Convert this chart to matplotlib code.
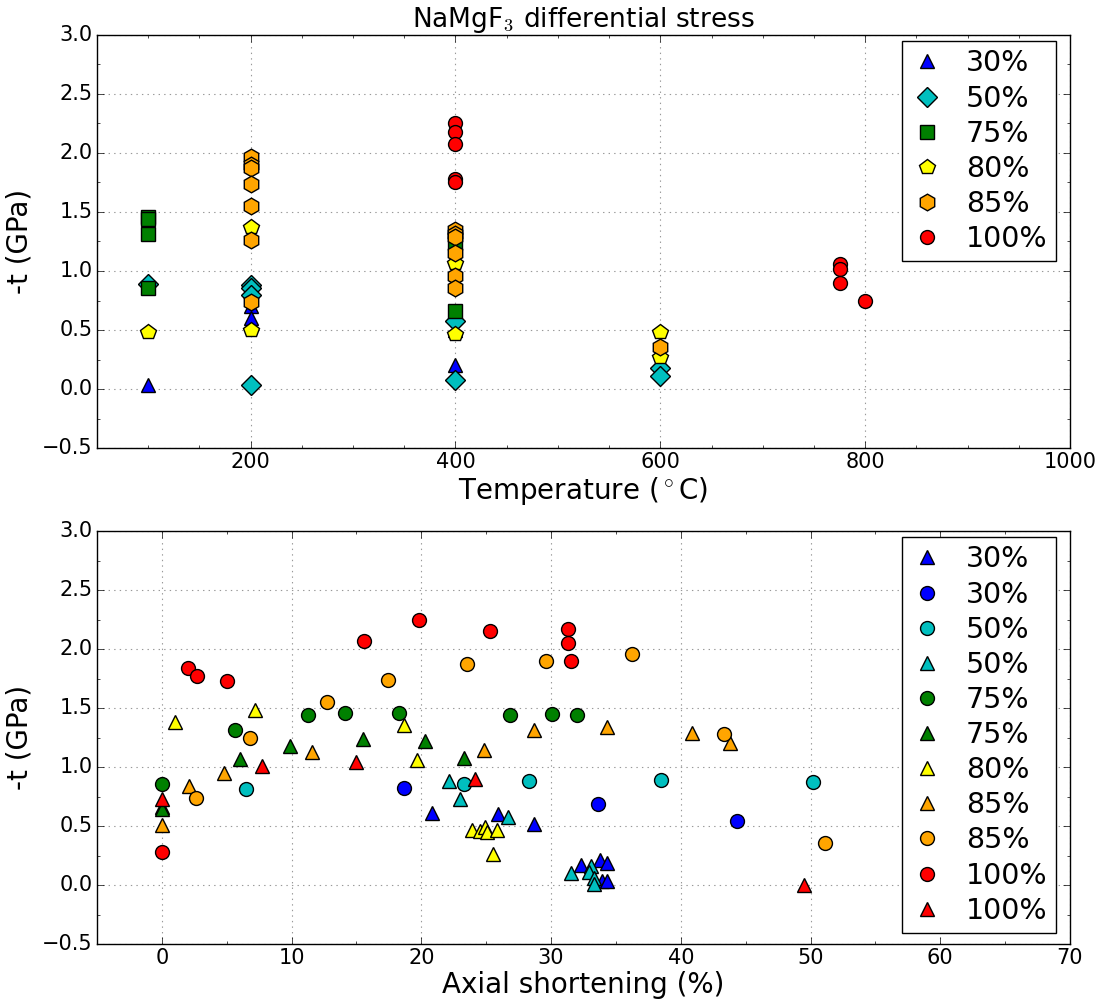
import matplotlib
matplotlib.use("Agg")
import matplotlib.pyplot as plt
from matplotlib.ticker import MultipleLocator

plt.style.use("classic")
plt.rcParams["mathtext.fontset"] = "cm"
plt.rcParams["font.family"] = "DejaVu Sans"

# ---- top panel: stress vs temperature ----
temp_30 = [100, 200, 200, 400, 400]
t_30 = [0.03, 0.70, 0.60, 0.50, 0.20]
temp_50 = [100, 200, 200, 200, 200, 400, 400, 600, 600]
t_50 = [0.89, 0.88, 0.86, 0.80, 0.03, 0.58, 0.08, 0.18, 0.11]
temp_75 = [100, 100, 100, 100, 400, 400]
t_75 = [1.46, 1.44, 1.31, 0.86, 1.24, 0.66]
temp_80 = [100, 200, 200, 400, 400, 600, 600]
t_80 = [0.48, 1.37, 0.50, 1.07, 0.47, 0.48, 0.27]
temp_85 = [200, 200, 200, 200, 200, 200, 200, 400, 400, 400, 400, 400, 400, 600]
t_85 = [1.97, 1.90, 1.87, 1.74, 1.55, 1.26, 0.74, 1.35, 1.31, 1.29, 1.15, 0.96, 0.86, 0.36]
temp_100 = [400, 400, 400, 400, 400, 775, 775, 775, 800]
t_100 = [2.25, 2.18, 2.08, 1.78, 1.75, 1.06, 1.02, 0.90, 0.75]

# ---- bottom panel: stress vs axial shortening ----
sh_30_tri = [20.8, 25.9, 28.7, 32.3, 33.8, 34.3, 33.9, 34.3]
t_30_tri = [0.61, 0.60, 0.52, 0.17, 0.21, 0.19, 0.03, 0.03]
sh_30_circ = [18.7, 33.6, 44.3]
t_30_circ = [0.82, 0.69, 0.54]
sh_50_circ = [6.5, 23.3, 28.3, 38.5, 50.2]
t_50_circ = [0.81, 0.86, 0.88, 0.89, 0.87]
sh_50_tri = [22.1, 23.0, 26.7, 31.5, 33.1, 32.9, 33.3, 33.3]
t_50_tri = [0.88, 0.73, 0.58, 0.10, 0.16, 0.11, 0.06, 0.01]
sh_75_circ = [0, 5.6, 11.3, 14.1, 18.3, 26.8, 30.1, 32.0]
t_75_circ = [0.86, 1.31, 1.44, 1.46, 1.46, 1.44, 1.45, 1.44]
sh_75_tri = [0, 0, 6.0, 9.9, 15.5, 20.3, 23.3]
t_75_tri = [0.66, 0.64, 1.07, 1.18, 1.24, 1.22, 1.08]
sh_80_tri = [1.0, 7.2, 18.7, 19.7, 23.9, 24.5, 24.9, 25.1, 25.8, 25.5]
t_80_tri = [1.38, 1.48, 1.36, 1.06, 0.47, 0.46, 0.49, 0.45, 0.47, 0.26]
sh_85_tri = [0, 2.1, 4.8, 11.6, 24.8, 28.7, 34.3, 40.9, 43.8]
t_85_tri = [0.51, 0.84, 0.95, 1.13, 1.14, 1.31, 1.34, 1.29, 1.20]
sh_85_circ = [2.6, 6.8, 12.7, 17.4, 23.5, 29.6, 36.2, 43.3, 51.1]
t_85_circ = [0.74, 1.25, 1.55, 1.74, 1.87, 1.90, 1.96, 1.28, 0.36]
sh_100_circ = [0, 2.05, 2.74, 5.0, 15.6, 19.8, 25.3, 31.3, 31.3, 31.5]
t_100_circ = [0.28, 1.84, 1.77, 1.73, 2.07, 2.25, 2.15, 2.17, 2.05, 1.90]
sh_100_tri = [0, 7.7, 15.0, 24.1, 49.5]
t_100_tri = [0.73, 1.01, 1.04, 0.90, 0.00]

W, H = 1105, 1001
fig = plt.figure(figsize=(W / 100., H / 100.), dpi=100, facecolor="white")
left, right = 97. / W, 1070. / W
ax1 = fig.add_axes([left, 1 - 448. / H, right - left, 413. / H])
ax2 = fig.add_axes([left, 1 - 944. / H, right - left, 413. / H])

kw = dict(linestyle="none", markeredgecolor="black", markeredgewidth=1)

ax1.plot(temp_30, t_30, "^", color="b", markersize=10, label="30%", **kw)
ax1.plot(temp_50, t_50, "D", color="c", markersize=10, label="50%", **kw)
ax1.plot(temp_75, t_75, "s", color="g", markersize=10, label="75%", **kw)
ax1.plot(temp_80, t_80, "p", color="yellow", markersize=11.5, label="80%", **kw)
ax1.plot(temp_85, t_85, "h", color="orange", markersize=12, label="85%", **kw)
ax1.plot(temp_100, t_100, "o", color="r", markersize=10, label="100%", **kw)

ms = 10
ax2.plot(sh_30_tri, t_30_tri, "^", color="b", markersize=ms, label="30%", **kw)
ax2.plot(sh_30_circ, t_30_circ, "o", color="b", markersize=ms, label="30%", **kw)
ax2.plot(sh_50_circ, t_50_circ, "o", color="c", markersize=ms, label="50%", **kw)
ax2.plot(sh_50_tri, t_50_tri, "^", color="c", markersize=ms, label="50%", **kw)
ax2.plot(sh_75_circ, t_75_circ, "o", color="g", markersize=ms, label="75%", **kw)
ax2.plot(sh_75_tri, t_75_tri, "^", color="g", markersize=ms, label="75%", **kw)
ax2.plot(sh_80_tri, t_80_tri, "^", color="yellow", markersize=ms, label="80%", **kw)
ax2.plot(sh_85_tri, t_85_tri, "^", color="orange", markersize=ms, label="85%", **kw)
ax2.plot(sh_85_circ, t_85_circ, "o", color="orange", markersize=ms, label="85%", **kw)
ax2.plot(sh_100_circ, t_100_circ, "o", color="r", markersize=ms, label="100%", **kw)
ax2.plot(sh_100_tri, t_100_tri, "^", color="r", markersize=ms, label="100%", **kw)

ax1.set_xlim(50, 1000)
ax1.xaxis.set_major_locator(MultipleLocator(200))
ax1.xaxis.set_minor_locator(MultipleLocator(50))
ax2.set_xlim(-5, 70)
ax2.xaxis.set_major_locator(MultipleLocator(10))
ax2.xaxis.set_minor_locator(MultipleLocator(5))

for ax in (ax1, ax2):
    ax.set_ylim(-0.5, 3.0)
    ax.yaxis.set_major_locator(MultipleLocator(0.5))
    ax.yaxis.set_minor_locator(MultipleLocator(0.25))
    ax.grid(True, which="major", color="0.6", linestyle=":", linewidth=0.8)
    ax.set_axisbelow(True)
    ax.tick_params(axis="both", which="major", labelsize=15, direction="in",
                   top=True, right=True, length=5, pad=3)
    ax.tick_params(axis="both", which="minor", direction="in",
                   top=True, right=True, length=2.5)
    ax.set_ylabel("-t (GPa)", fontsize=20)
    ax.yaxis.set_label_coords(-0.065, 0.5)
    ax.legend(loc="upper right", bbox_to_anchor=(0.9856, 0.985), borderaxespad=0,
              numpoints=1, fontsize=20.5, fancybox=False, frameon=True,
              handlelength=1.17, handletextpad=0.8, labelspacing=0.25,
              borderpad=0.29)

ax1.set_xlabel("Temperature ($^\\circ$C)", fontsize=20, labelpad=2)
ax2.set_xlabel("Axial shortening (%)", fontsize=20, labelpad=2)
ax1.set_title("NaMgF$_3$ differential stress", fontsize=19, y=1.0, pad=6)

fig.savefig("out.png", dpi=100, facecolor="white")
